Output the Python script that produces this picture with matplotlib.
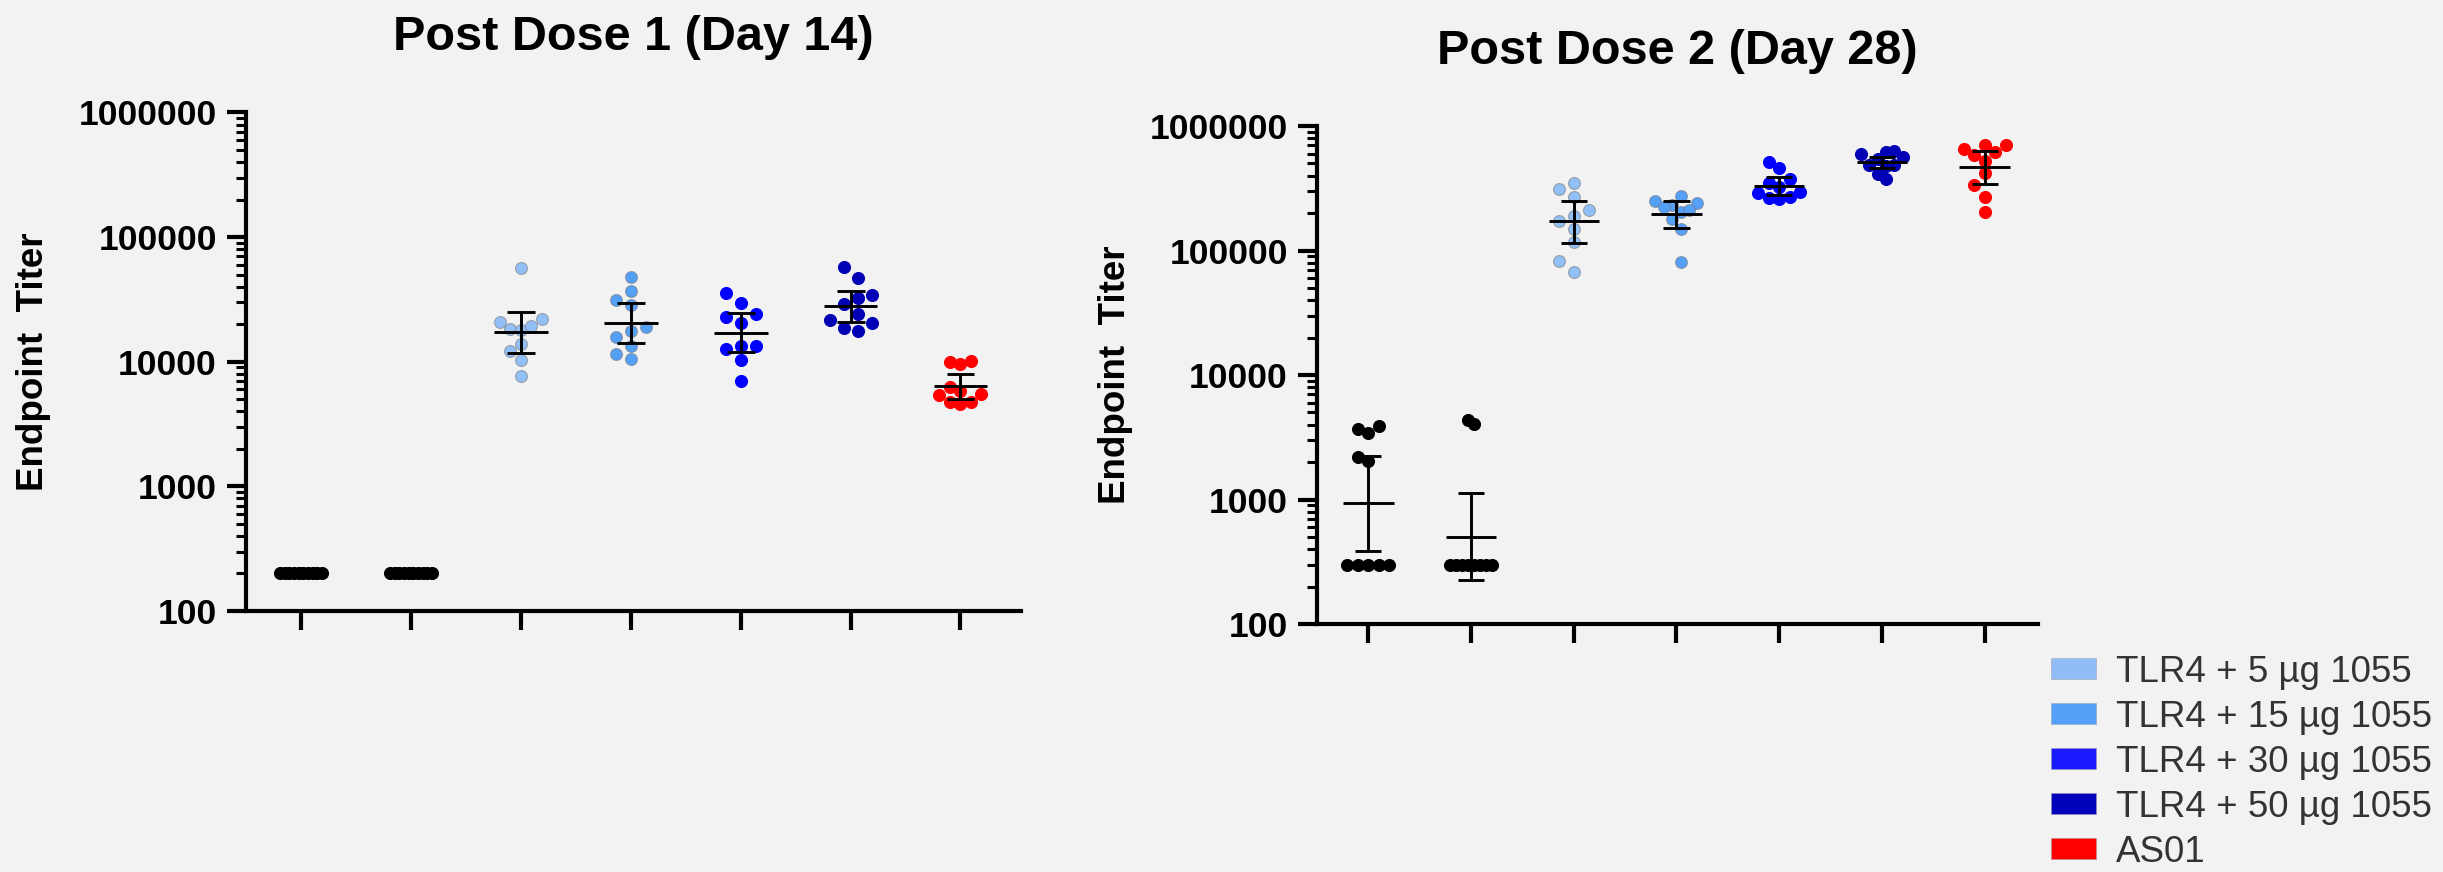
import numpy as np
import matplotlib.pyplot as plt
from matplotlib.patches import Patch
from matplotlib.ticker import LogLocator, FixedLocator, FuncFormatter, NullFormatter

plt.rcParams['font.family'] = ['Liberation Sans', 'DejaVu Sans']

# Colors
bg = "#F2F2F2"
c_5 = "#92BFF6"
c_15 = "#55A0F7"
c_30 = "#0000FF"
c_50 = "#0000B5"
c_as01 = "#FF0000"
group_colors = ["#000000", "#000000", c_5, c_15, c_30, c_50, c_as01]
legend_colors = ["#92BCF5", "#55A0F8", "#1A1AFF", "#0000BB", "#FF0000"]
legend_labels = ["TLR4 + 5 µg 1055", "TLR4 + 15 µg 1055", "TLR4 + 30 µg 1055",
                 "TLR4 + 50 µg 1055", "AS01"]

# Data - Post Dose 1 (Day 14)
day14_values = [
    [200, 200, 200, 200, 200, 200, 200, 200, 200, 200],
    [200, 200, 200, 200, 200, 200, 200, 200, 200, 200],
    [56500, 22100, 20900, 18400, 18000, 19200, 14000, 12100, 10400, 7670],
    [47600, 37000, 28700, 31100, 17500, 18900, 15700, 13300, 10600, 11500],
    [29800, 35400, 24200, 22900, 20500, 13400, 13400, 12700, 10400, 6960],
    [57200, 47300, 32300, 34400, 28900, 21700, 24100, 20400, 17500, 18500],
    [10200, 9640, 10000, 6310, 5550, 5790, 5410, 4760, 4730, 4590],
]
day14_mean = [200, 200, 17300, 20500, 16900, 28100, 6350]
day14_lower = [200, 200, 11700, 14100, 11900, 21000, 5060]
day14_upper = [200, 200, 25000, 29500, 24400, 37200, 8020]

# Data - Post Dose 2 (Day 28)
day28_values = [
    [3690, 3430, 3930, 2180, 2050, 300, 300, 300, 300, 300],
    [4050, 4350, 300, 300, 300, 300, 300, 300, 300, 300],
    [346000, 311000, 267000, 211000, 190000, 173000, 150000, 116000, 82400, 67700],
    [239000, 251000, 275000, 233000, 205000, 211000, 222000, 178000, 149000, 80900],
    [511000, 462000, 377000, 346000, 325000, 293000, 270000, 287000, 262000, 257000],
    [566000, 632000, 540000, 614000, 595000, 477000, 483000, 488000, 411000, 377000],
    [700000, 700000, 649000, 584000, 618000, 526000, 421000, 335000, 270000, 203000],
]
day28_mean = [929, 501, 171000, 196000, 327000, 511000, 466000]
day28_lower = [385, 225, 114000, 153000, 277000, 457000, 343000]
day28_upper = [2250, 1120, 249000, 252000, 389000, 566000, 626000]

y_ticks = [100, 1000, 10000, 100000, 1000000]


def swarm_x(ax, center, values, dot_px=12, step_px=15, max_span_px=42):
    # simple column beeswarm in pixel space
    vals = np.asarray(values, dtype=float)
    ypx = ax.transData.transform(np.column_stack([np.full(len(vals), center), vals]))[:, 1]
    order = np.argsort(ypx)
    cols = np.zeros(len(vals))
    placed = []
    candidates = [0]
    for k in range(1, 12):
        candidates += [-k, k]
    for i in order:
        for c in candidates:
            if all(abs(y - ypx[i]) >= dot_px for cc, y in placed if cc == c):
                cols[i] = c
                placed.append((c, ypx[i]))
                break
    offs = cols * step_px
    span = offs.max() - offs.min()
    if span > max_span_px:
        mid = (offs.max() + offs.min()) / 2
        offs = (offs - mid) * max_span_px / span
    px_per_unit = ax.transData.transform((1, 1))[0] - ax.transData.transform((0, 1))[0]
    return center + offs / px_per_unit


fig = plt.figure(figsize=(24.43, 8.72), dpi=100, facecolor=bg)
ax1 = fig.add_axes([0.1007, 0.2993, 0.3172, 0.5717])
ax2 = fig.add_axes([0.5391, 0.2844, 0.2951, 0.5711])

panels = [
    (ax1, "Post Dose 1 (Day 14)", day14_values, day14_mean, day14_lower, day14_upper, 6.55, -0.2748),
    (ax2, "Post Dose 2 (Day 28)", day28_values, day28_mean, day28_lower, day28_upper, 6.52, -0.2802),
]

for ax, title, values, mean, lower, upper, xmax, label_x in panels:
    ax.set_facecolor(bg)
    ax.set_yscale("log")
    ax.set_ylim(100, 1000000)
    ax.set_xlim(-0.5, xmax)

    for i, vals in enumerate(values):
        xs = swarm_x(ax, i, vals)
        light = i in (2, 3)
        ax.scatter(xs, vals, s=74, color=group_colors[i],
                   edgecolors=(0.45, 0.45, 0.45, 0.55) if light else group_colors[i],
                   linewidths=0.8, zorder=2)

    pos = np.arange(len(values))
    ax.hlines(mean, pos - 0.245, pos + 0.245, color="black", lw=2.1, zorder=3)
    ax.vlines(pos, lower, upper, color="black", lw=2.1, zorder=3)
    ax.hlines(lower, pos - 0.127, pos + 0.127, color="black", lw=2.1, zorder=3)
    ax.hlines(upper, pos - 0.127, pos + 0.127, color="black", lw=2.1, zorder=3)

    # Axes styling
    for side in ("top", "right"):
        ax.spines[side].set_visible(False)
    for side in ("left", "bottom"):
        ax.spines[side].set_linewidth(3)
        ax.spines[side].set_color("black")

    ax.yaxis.set_major_locator(FixedLocator(y_ticks))
    ax.yaxis.set_major_formatter(FuncFormatter(lambda v, p: f"{int(round(v))}"))
    ax.yaxis.set_minor_locator(LogLocator(base=10, subs=np.arange(2, 10)))
    ax.yaxis.set_minor_formatter(NullFormatter())
    ax.set_xticks(pos)
    ax.set_xticklabels([])
    ax.tick_params(axis="y", which="major", length=14, width=3, pad=7,
                   labelsize=25.5, colors="black")
    ax.tick_params(axis="y", which="minor", length=7, width=2.2)
    ax.tick_params(axis="x", which="major", length=14, width=3)
    for lab in ax.get_yticklabels():
        lab.set_fontweight("bold")

    ax.set_title(title, fontsize=35, fontweight="bold", pad=45)
    ax.set_ylabel("Endpoint  Titer", fontsize=26.5, fontweight="bold", va="center")
    ax.yaxis.set_label_coords(label_x, 0.5)

handles = [Patch(facecolor=c, edgecolor=(0.6, 0.6, 0.6, 0.5), linewidth=0.6) for c in legend_colors]
fig.legend(handles, legend_labels, loc="upper left", bbox_to_anchor=(0.8395, 0.249),
           frameon=False, fontsize=26.5, labelcolor="#333333", handlelength=1.22,
           handleheight=0.5, handletextpad=0.54, labelspacing=0.27,
           borderpad=0, borderaxespad=0)

fig.savefig("out.png", dpi=100, facecolor=bg)
